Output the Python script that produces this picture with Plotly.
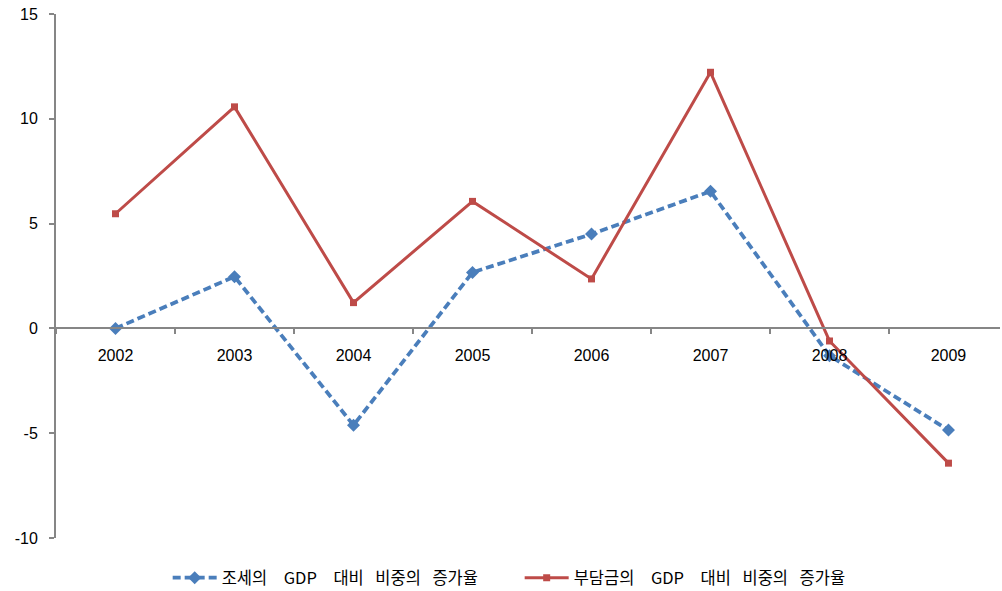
import plotly.graph_objects as go

years = ["2002", "2003", "2004", "2005", "2006", "2007", "2008", "2009"]
tax_share_growth = [0.0, 2.47, -4.62, 2.67, 4.50, 6.54, -1.30, -4.85]
burden_share_growth = [5.47, 10.57, 1.23, 6.06, 2.36, 12.22, -0.60, -6.43]

y_ticks = [-10, -5, 0, 5, 10, 15]
y_tick_text = ["-10", "-5", "0", "5", "10", "15"]

# explicit space characters keep the wide word gaps of the legend labels
wide = "\u2002\u2002"
narrow = "\u2002\u2009"
tax_name = f"조세의{wide}GDP{wide}대비{narrow}비중의{narrow}증가율"
burden_name = f"부담금의{wide}GDP{wide}대비{narrow}비중의{narrow}증가율"

axis_gray = "#868686"
blue = "#4A7EBB"
red = "#BE4B48"
num_font = dict(family="Liberation Sans", size=16, color="black")

fig = go.Figure()
fig.add_trace(go.Scatter(
    x=years, y=tax_share_growth, name=tax_name, mode="lines+markers",
    line=dict(color=blue, width=3.75, dash="8px,4px"),
    marker=dict(symbol="diamond", size=10, color=blue),
))
fig.add_trace(go.Scatter(
    x=years, y=burden_share_growth, name=burden_name, mode="lines+markers",
    line=dict(color=red, width=3),
    marker=dict(symbol="square", size=7, color=red),
))

fig.update_layout(
    width=1002, height=591,
    margin=dict(l=56, r=2, t=14, b=53, autoexpand=False),
    paper_bgcolor="white", plot_bgcolor="white",
    font=num_font,
    showlegend=True,
    legend=dict(
        orientation="h", x=0.1183, xanchor="left",
        yref="container", y=0.022, yanchor="middle",
        font=dict(family="Noto Sans CJK KR", size=16.5, color="black"),
        itemwidth=44, entrywidth=293,
    ),
    xaxis=dict(
        type="category", anchor="free", position=0.4,
        showline=True, linecolor=axis_gray, linewidth=2,
        ticks="outside", ticklen=5, tickcolor=axis_gray, tickwidth=2,
        tickson="boundaries", showgrid=False, zeroline=False,
        tickfont=num_font, ticklabelstandoff=12, range=[-0.5, 7.433],
    ),
    yaxis=dict(
        range=[-10, 15], tickvals=y_ticks, ticktext=y_tick_text,
        showline=True, linecolor=axis_gray, linewidth=2,
        ticks="outside", ticklen=5, tickcolor=axis_gray, tickwidth=2,
        showgrid=False, zeroline=False, tickfont=num_font,
        ticklabelstandoff=8,
    ),
)

fig.write_html("out.html")
